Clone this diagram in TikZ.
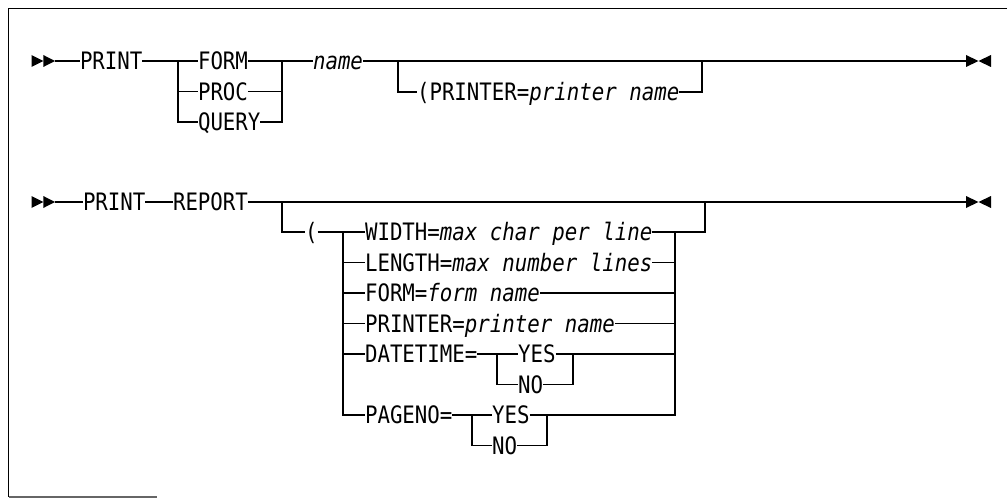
\documentclass[tikz,border=0pt]{standalone}
\usepackage{fontspec}
\newfontfamily\synmono[FakeStretch=0.865]{DejaVu Sans Mono}
\begin{document}
\begin{tikzpicture}[x=1pt,y=-1pt,line width=1.3pt,
  txt/.style={anchor=west, inner sep=0pt, outer sep=0pt, text height=17pt, text depth=0pt,
    font=\synmono\fontsize{24}{28}\selectfont},
  frameline/.style={line width=1.6pt},
  tip/.style={fill=black, draw=none}]
\useasboundingbox (0,0) rectangle (1008,500);
% frame
\draw[frameline] (1007,8.5) -- (8.5,8.5) -- (8.5,497);
\draw[frameline, black!60] (8.5,497) -- (157,497);

% ---------- row 1 ----------
\fill[tip] (31.5,55) -- (43.3,61) -- (31.5,67) -- cycle;
\fill[tip] (43.3,55) -- (55,61) -- (43.3,67) -- cycle;
\coordinate (s1) at (55,61);
\node[txt] (print1) at (80,61) {PRINT};
\node[txt] (form1) at (198,61) {FORM};
\node[txt] (proc1) at (198,91.5) {PROC};
\node[txt] (query1) at (198,122) {QUERY};
\coordinate (b1) at (178,61);
\coordinate (c1) at (282,61);
\node[txt] (nm1) at (313,61) {\itshape name};
\coordinate (b2) at (398,61);
\node[txt] (prt1) at (417,92) {(PRINTER=\textit{printer name}};
\coordinate (c2) at (702,61);
\coordinate (e1) at (966,61);
\fill[tip] (966,55) -- (978.5,61) -- (966,67) -- cycle;
\fill[tip] (991,55) -- (978.5,61) -- (991,67) -- cycle;

\draw (s1) -- (print1.west);
\draw (print1.east) -- (form1.west);
\draw (b1) |- (proc1.west);
\draw (b1) |- (query1.west);
\draw (form1.east) -- (nm1.west);
\draw (proc1.east) -| (c1);
\draw (query1.east) -| (c1);
\draw (nm1.east) -- (e1);
\draw (b2) |- (prt1.west);
\draw (prt1.east) -| (c2);

% ---------- row 2 ----------
\fill[tip] (31.5,196) -- (43.3,202) -- (31.5,208) -- cycle;
\fill[tip] (43.3,196) -- (55,202) -- (43.3,208) -- cycle;
\coordinate (s2) at (55,202);
\node[txt] (print2) at (83,202) {PRINT};
\node[txt] (report) at (173,202) {REPORT};
\coordinate (b3) at (282,202);
\node[txt] (lp) at (305,232) {(};
\coordinate (b4) at (343,232);
\node[txt] (width) at (365,232) {WIDTH=\textit{max char per line}};
\node[txt] (length) at (365,262.5) {LENGTH=\textit{max number lines}};
\node[txt] (form2) at (365,293) {FORM=\textit{form name}};
\node[txt] (prt2) at (365,323.5) {PRINTER=\textit{printer name}};
\node[txt] (dt) at (365,354) {DATETIME=};
\node[txt] (dtyes) at (518,354) {YES};
\node[txt] (dtno) at (518,384.5) {NO};
\node[txt] (pg) at (365,415) {PAGENO=};
\node[txt] (pgyes) at (492,415) {YES};
\node[txt] (pgno) at (492,445.5) {NO};
\coordinate (c3) at (675,232);
\coordinate (c4) at (705,202);
\coordinate (b5) at (497,354);
\coordinate (c5) at (573,354);
\coordinate (b6) at (472,415);
\coordinate (c6) at (547,415);
\coordinate (e2) at (966,202);
\fill[tip] (966,196) -- (978.5,202) -- (966,208) -- cycle;
\fill[tip] (991,196) -- (978.5,202) -- (991,208) -- cycle;

\draw (s2) -- (print2.west);
\draw (print2.east) -- (report.west);
\draw (report.east) -- (e2);
\draw (b3) |- (lp.west);
\draw (lp.east) -- (width.west);
\draw (b4) |- (length.west);
\draw (b4) |- (form2.west);
\draw (b4) |- (prt2.west);
\draw (b4) |- (dt.west);
\draw (b4) |- (pg.west);
\draw (width.east) -- (c3) -| (c4);
\draw (length.east) -- (length.east -| c3);
\draw (form2.east) -- (form2.east -| c3);
\draw (prt2.east) -- (prt2.east -| c3);
\draw (c3) |- (c6);
\draw (dt.east) -- (dtyes.west);
\draw (b5) |- (dtno.west);
\draw (dtyes.east) -- (dtyes.east -| c3);
\draw (dtno.east) -| (c5);
\draw (pg.east) -- (pgyes.west);
\draw (b6) |- (pgno.west);
\draw (pgyes.east) -- (c6);
\draw (pgno.east) -| (c6);
\end{tikzpicture}
\end{document}
